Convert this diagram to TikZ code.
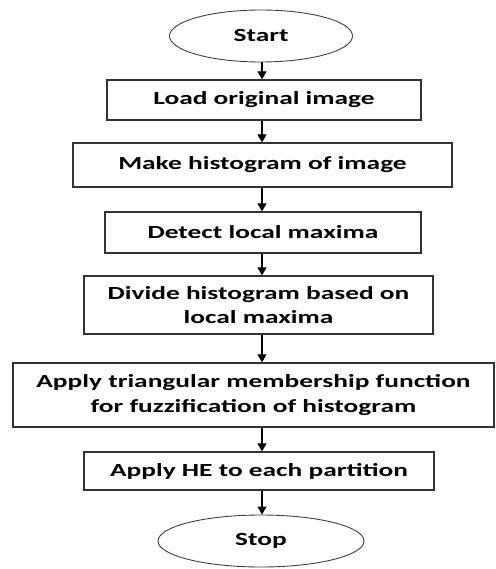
\documentclass[tikz,border=0pt]{standalone}
\usepackage{fontspec}
\setmainfont{Carlito}[FakeStretch=1.48]
\usetikzlibrary{shapes.geometric}
\usetikzlibrary{arrows.meta}

\begin{document}
\begin{tikzpicture}[x=1pt,y=-1pt,
  every node/.style={font=\bfseries\fontsize{18.5}{24.5}\selectfont},
  term/.style={ellipse,draw=black!75,line width=0.9pt,inner sep=0pt},
  stepbox/.style={rectangle,draw=black!80,line width=1.3pt,inner sep=0pt,align=center},
  flow/.style={-{Triangle[width=9pt,length=8pt]},line width=1.2pt}]
\useasboundingbox (0,0) rectangle (495,569);
\coordinate (axis) at (262,0);

\node[term,minimum width=183pt,minimum height=52pt] (start) at (261,36) {Start};
\node[stepbox,minimum width=314pt,minimum height=40pt] (load) at (264,100) {Load original image};
\node[stepbox,minimum width=379pt,minimum height=44pt] (hist) at (262.5,165) {Make histogram of image};
\node[stepbox,minimum width=316pt,minimum height=41pt] (detect) at (263,232.5) {Detect local maxima};
\node[stepbox,minimum width=349pt,minimum height=58pt] (divide) at (258.5,305) {Divide histogram based on\\local maxima};
\node[stepbox,minimum width=481pt,minimum height=64pt] (fuzzy) at (253.5,395) {Apply triangular membership function\\for fuzzification of histogram};
\node[stepbox,minimum width=350pt,minimum height=38pt] (he) at (259,471) {Apply HE to each partition};
\node[term,minimum width=206pt,minimum height=52pt] (stop) at (261,541) {Stop};

\path[flow]
  (start.south -| axis) edge (load.north -| axis)
  (load.south -| axis) edge (hist.north -| axis)
  (hist.south -| axis) edge (detect.north -| axis)
  (detect.south -| axis) edge (divide.north -| axis)
  (divide.south -| axis) edge (fuzzy.north -| axis)
  (fuzzy.south -| axis) edge (he.north -| axis)
  (he.south -| axis) edge (stop.north -| axis)
  ;
\end{tikzpicture}
\end{document}
